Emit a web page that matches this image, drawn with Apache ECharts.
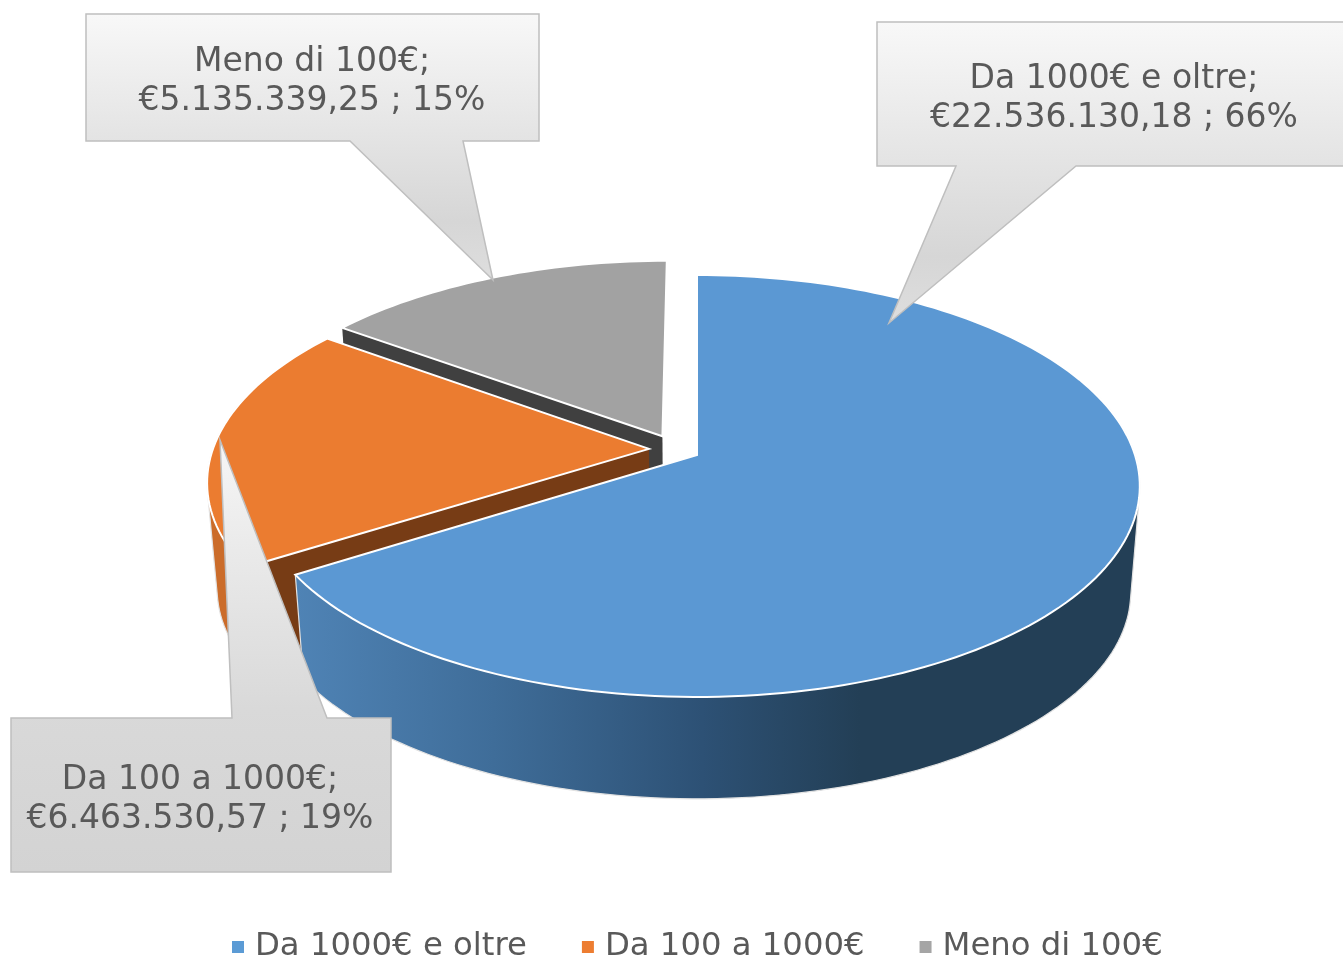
<!DOCTYPE html>
<html>
<head>
<meta charset="utf-8">
<style>
html, body { margin: 0; background: #fff; }
#main { width: 1343px; height: 960px; }
</style>
<script src="https://cdn.jsdelivr.net/npm/echarts@6/dist/echarts.min.js"></script>
</head>
<body>
<div id="main"></div>
<script>
var categories = ['Da 1000€ e oltre', 'Da 100 a 1000€', 'Meno di 100€'];
var values = [22536130.18, 6463530.57, 5135339.25];
var colors = ['#5B9BD5', '#ED7D31', '#A5A5A5'];
var topColors = ['#5B98D3', '#EB7C30', '#A2A2A2'];
var cutColors = [null, '#773C15', '#404040'];
var FONT = '"DejaVu Sans", Verdana, sans-serif';

// the two planes of the disc, seen in perspective
var TOP = { x: 697, y: 455, a: 438, b: 206.4 };
var BOTTOM = { x: 697, y: 562, a: 429, b: 202 };
var PERSP = 0.147;
// how far each slice is pulled out, in disc units
var EXPLODE = [[0, 0], [-0.11, -0.03], [-0.08, -0.092]];

var total = values.reduce(function (s, v) { return s + v; }, 0);

function project(plane, u, v) {
  var w = 1 - PERSP * v;
  return [plane.x + plane.a * u / w, plane.y + plane.b * v / w];
}

function point(plane, i, angle) {
  return project(plane, Math.sin(angle) + EXPLODE[i][0], -Math.cos(angle) + EXPLODE[i][1]);
}

function arc(plane, i, from, to) {
  var pts = [];
  var n = Math.max(8, Math.round((to - from) * 40));
  for (var k = 0; k <= n; k++) {
    pts.push(point(plane, i, from + (to - from) * k / n));
  }
  return pts;
}

// outer hull, so the wall follows the tangent between the two rims
function hull(points) {
  var pts = points.slice().sort(function (a, b) { return a[0] - b[0] || a[1] - b[1]; });
  function cross(o, a, b) {
    return (a[0] - o[0]) * (b[1] - o[1]) - (a[1] - o[1]) * (b[0] - o[0]);
  }
  function half(list) {
    var out = [];
    list.forEach(function (p) {
      while (out.length > 1 && cross(out[out.length - 2], out[out.length - 1], p) <= 0) out.pop();
      out.push(p);
    });
    out.pop();
    return out;
  }
  return half(pts).concat(half(pts.slice().reverse()));
}

function sideFill(i) {
  if (i === 0) {
    return new echarts.graphic.LinearGradient(296, 0, 860, 0, [
      { offset: 0, color: '#4f83b5' },
      { offset: 0.35, color: '#3f6d99' },
      { offset: 0.72, color: '#2d5175' },
      { offset: 1, color: '#233f56' }
    ], true);
  }
  return '#CB6C2A';
}

function renderSlice(i) {
  return function (params, api) {
    var before = 0;
    for (var k = 0; k < i; k++) before += values[k];
    var from = before / total * Math.PI * 2;
    var to = from + api.value(0) / total * Math.PI * 2;
    var ex = EXPLODE[i];
    var apexTop = project(TOP, ex[0], ex[1]);
    var apexBottom = project(BOTTOM, ex[0], ex[1]);
    var topArc = arc(TOP, i, from, to);
    var children = [];

    // only the front part of the rim can be seen
    var sideFrom = Math.max(from, Math.PI * 0.4);
    var sideTo = Math.min(to, Math.PI * 1.6);
    if (sideTo > sideFrom) {
      children.push({
        type: 'polygon',
        shape: { points: hull(arc(TOP, i, sideFrom, sideTo).concat(arc(BOTTOM, i, sideFrom, sideTo))) },
        style: { fill: sideFill(i), stroke: '#e2e2e2', lineWidth: 1.2 }
      });
    }
    if (cutColors[i]) {
      children.push({
        type: 'polygon',
        shape: { points: [apexTop, topArc[0], point(BOTTOM, i, from), apexBottom] },
        style: { fill: cutColors[i] }
      });
    }
    children.push({
      type: 'polygon',
      shape: { points: [apexTop].concat(topArc) },
      style: { fill: topColors[i], stroke: '#fff', lineWidth: 2 }
    });
    return { type: 'group', children: children };
  };
}

function euro(v) {
  var parts = v.toFixed(2).split('.');
  return '€' + parts[0].replace(/\B(?=(\d{3})+$)/g, '.') + ',' + parts[1];
}

function labelText(i) {
  return categories[i] + ';\n' + euro(values[i]) + ' ; ' + Math.round(values[i] / total * 100) + '%';
}

var softStops = [
  { offset: 0, color: '#f8f8f8' },
  { offset: 0.78, color: '#d6d6d6' },
  { offset: 1, color: '#dedede' }
];
var lowStops = [
  { offset: 0, color: '#f6f6f6' },
  { offset: 0.62, color: '#d9d9d9' },
  { offset: 1, color: '#d3d3d3' }
];

// callout outlines and where their text sits
var calloutShapes = [
  { points: [[877, 22], [1350, 22], [1350, 166], [1076, 166], [889, 323], [956, 166], [877, 166]], text: [1114, 99], slice: 0, stops: softStops },
  { points: [[11, 718], [232, 718], [220, 440], [327, 718], [391, 718], [391, 872], [11, 872]], text: [200, 800], slice: 1, stops: lowStops },
  { points: [[86, 14], [539, 14], [539, 141], [463, 141], [493, 280], [350, 141], [86, 141]], text: [312, 82], slice: 2, stops: softStops }
];

function calloutGraphic(c) {
  var ys = c.points.map(function (p) { return p[1]; });
  return [
    {
      type: 'polygon',
      z: 100,
      silent: true,
      shape: { points: c.points },
      style: {
        fill: new echarts.graphic.LinearGradient(0, Math.min.apply(null, ys), 0, Math.max.apply(null, ys), c.stops, true),
        stroke: '#bfbfbf',
        lineWidth: 1.5
      }
    },
    {
      type: 'text',
      z: 101,
      silent: true,
      x: c.text[0],
      y: c.text[1],
      style: {
        text: labelText(c.slice),
        fill: '#595959',
        font: '33px ' + FONT,
        align: 'center',
        verticalAlign: 'middle',
        lineHeight: 39
      }
    }
  ];
}

var graphicElements = [];
calloutShapes.forEach(function (c) {
  graphicElements = graphicElements.concat(calloutGraphic(c));
});

var chart = echarts.init(document.getElementById('main'));
chart.setOption({
  animation: false,
  legend: {
    data: categories,
    left: 227,
    top: 926,
    itemWidth: 12,
    itemHeight: 12,
    itemGap: 55,
    icon: 'rect',
    selectedMode: false,
    textStyle: { fontSize: 32.3, fontFamily: FONT, color: '#595959', padding: [0, 0, 0, 6] }
  },
  graphic: graphicElements,
  // drawn back to front: gray, orange, blue
  series: categories.map(function (name, i) {
    return {
      type: 'custom',
      name: name,
      coordinateSystem: 'none',
      silent: true,
      z: 10 - i,
      itemStyle: { color: colors[i] },
      renderItem: renderSlice(i),
      data: [values[i]]
    };
  })
});
</script>
</body>
</html>
